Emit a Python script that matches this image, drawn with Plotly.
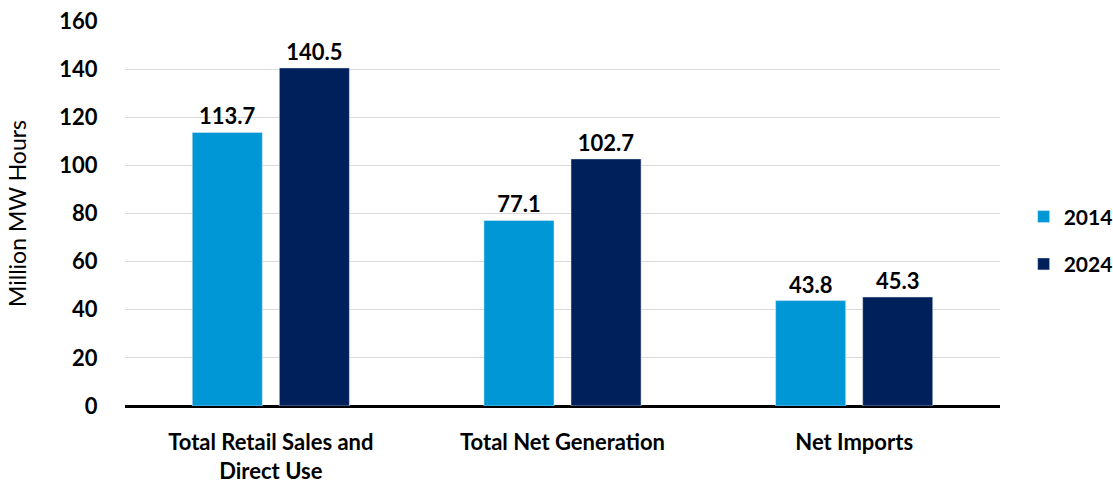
import plotly.graph_objects as go

categories = ["Total Retail Sales and<br>Direct Use", "Total Net Generation", "Net Imports"]
values_2014 = [113.7, 77.1, 43.8]
values_2024 = [140.5, 102.7, 45.3]
y_ticks = [0, 20, 40, 60, 80, 100, 120, 140, 160]

FONT = "Lato"
bold = dict(family=FONT, size=22, color="black", weight="bold")

fig = go.Figure()
for name, vals, color in [("2014", values_2014, "#0097D6"), ("2024", values_2024, "#00205B")]:
    fig.add_trace(go.Bar(
        name=name, x=categories, y=vals, marker_color=color, legendgroup=name,
        texttemplate="%{y:.1f}", textposition="outside", textfont=bold,
        cliponaxis=False,
    ))

fig.update_layout(
    width=1113, height=483,
    margin=dict(l=125, r=113, t=21, b=77, autoexpand=False),
    paper_bgcolor="white", plot_bgcolor="white",
    barmode="group", bargap=0.403, bargroupgap=0.195,
    font=dict(family=FONT, color="black"),
    showlegend=True,
    legend=dict(x=1.027, xanchor="left", y=0.43, yanchor="middle",
                font=dict(family=FONT, size=21, color="black", weight="bold"),
                tracegroupgap=17, itemwidth=30),
    xaxis=dict(tickfont=bold, showgrid=False, showline=False,
               ticks="outside", ticklen=17, tickcolor="rgba(0,0,0,0)"),
    yaxis=dict(
        range=[0, 160], tickvals=y_ticks, showgrid=True, gridcolor="#d9d9d9", gridwidth=1,
        zeroline=True, zerolinecolor="black", zerolinewidth=3,
        tickfont=bold,
        ticks="outside", ticklen=22, tickcolor="rgba(0,0,0,0)",
        title=dict(text="Million MW Hours", font=dict(family=FONT, size=23, color="black"), standoff=26),
    ),
)

fig.write_html("out.html")
